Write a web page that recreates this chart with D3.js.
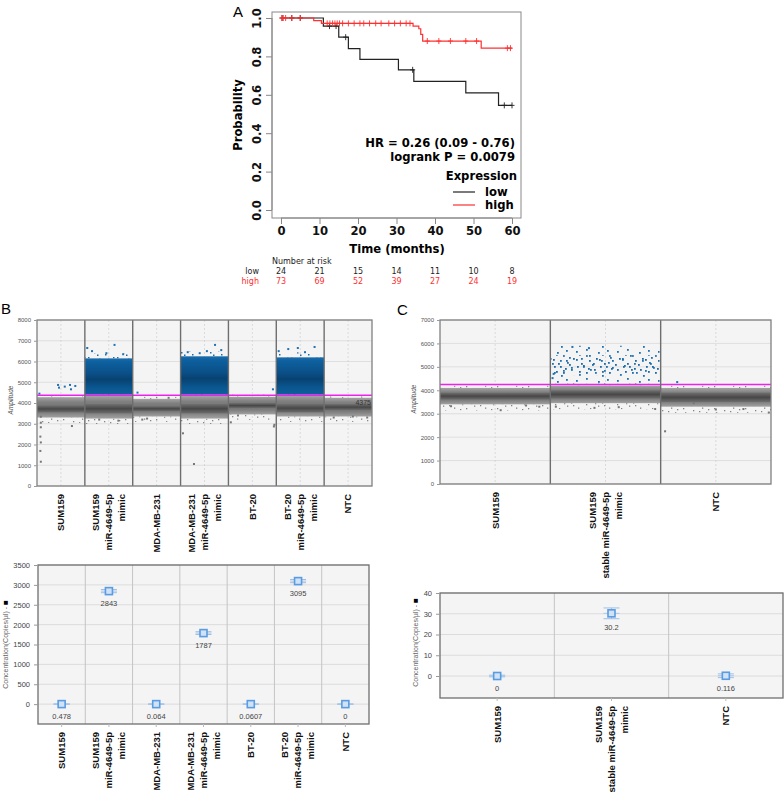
<!DOCTYPE html>
<html><head><meta charset="utf-8">
<script src="https://cdn.jsdelivr.net/npm/d3@7"></script>
<style>body{margin:0;background:#fff}svg{display:block}</style>
</head><body>
<svg id="c" width="784" height="792"></svg>
<script>
// ================= DATA =================
// Panel A: Kaplan-Meier
const kmTicksX = [0, 10, 20, 30, 40, 50, 60];
const kmTicksY = [0, 0.2, 0.4, 0.6, 0.8, 1.0];
const lowTimes = [0, 11, 15, 17.5, 20.5, 30.5, 34.5, 48, 56.5, 60];
const lowSurv  = [1, 0.958, 0.9, 0.84, 0.785, 0.73, 0.67, 0.61, 0.545, 0.545];
const lowCensor = [0.3, 2.8, 5, 12.6, 14.3, 16.8, 34.2, 58, 60];
const highTimes = [0, 8.5, 10.5, 34.3, 35.8, 36.3, 36.8, 52, 60];
const highSurv  = [1, 0.986, 0.972, 0.958, 0.944, 0.915, 0.88, 0.843, 0.843];
const highCensor = [0.2, 0.6, 1.2, 2.8, 5, 12, 12.7, 13.4, 14, 14.6, 15.2, 16, 17.5, 19, 20.5, 21.5, 23, 24.6, 26, 28, 29.5, 31, 32.5, 33.5, 38, 41, 44, 48, 50.8, 58.8, 59.6];
const riskTimes = [0, 10, 20, 30, 40, 50, 60];
const riskLow  = [24, 21, 15, 14, 11, 10, 8];
const riskHigh = [73, 69, 52, 39, 27, 24, 19];
const hrText = "HR = 0.26 (0.09 - 0.76)";
const pText = "logrank P = 0.0079";

// Panel B: droplet amplitude
const wellsB = ["SUM159", "SUM159|miR-4649-5p|mimic", "MDA-MB-231", "MDA-MB-231|miR-4649-5p|mimic", "BT-20", "BT-20|miR-4649-5p|mimic", "NTC"];
const ampTicksB = [0, 1000, 2000, 3000, 4000, 5000, 6000, 7000, 8000];
// negative droplet cluster per well: [low edge, core low, core high, high edge]
const negB = [[3300, 3550, 3880, 4280], [3250, 3500, 3950, 4350], [3350, 3600, 3850, 4200], [3250, 3500, 3950, 4350], [3450, 3750, 4000, 4300], [3350, 3550, 3950, 4350], [3350, 3650, 3950, 4250]];
// positive cluster per well: [low edge, high edge]
const posB = [null, [4400, 6150], null, [4400, 6250], null, [4400, 6200], null];
const thresholdB = 4375;
// isolated droplets: [well, position within well (0-1), amplitude, positive?]
const outB = [
  [0, 0.44, 4870, 1], [0, 0.46, 4740, 1], [0, 0.58, 4790, 1], [0, 0.69, 4870, 1], [0, 0.71, 4660, 1], [0, 0.8, 4820, 1],
  [0, 0.08, 3340, 0], [0, 0.08, 3050, 0], [0, 0.08, 2830, 0], [0, 0.07, 2380, 0], [0, 0.08, 2100, 0], [0, 0.07, 1690, 0], [0, 0.08, 1170, 0], [0, 0.73, 2890, 0], [0, 0.05, 4450, 1],
  [1, 0.05, 6650, 1], [1, 0.15, 6500, 1], [1, 0.62, 6800, 1], [1, 0.45, 6400, 1], [1, 0.8, 6350, 1], [1, 0.3, 3200, 0], [1, 0.7, 3150, 0],
  [2, 0.1, 4500, 1], [2, 0.2, 3200, 0], [2, 0.3, 3250, 0], [2, 0.75, 4250, 0],
  [3, 0.05, 2540, 0], [3, 0.28, 1060, 0], [3, 0.15, 6450, 1], [3, 0.55, 6500, 1], [3, 0.72, 6800, 1], [3, 0.85, 6550, 1], [3, 0.4, 6400, 1],
  [4, 0.93, 4660, 1], [4, 0.05, 3070, 0], [4, 0.96, 2950, 0], [4, 0.95, 2870, 0], [4, 0.2, 3400, 0],
  [5, 0.05, 6500, 1], [5, 0.25, 6600, 1], [5, 0.45, 6650, 1], [5, 0.8, 6700, 1], [5, 0.6, 6450, 1],
  [6, 0.2, 3300, 0], [6, 0.6, 3350, 0], [6, 0.9, 3300, 0]
];

// Panel B: concentration
const concB = [0.478, 2843, 0.064, 1787, 0.0607, 3095, 0];
const concErrB = [4, 40, 3, 35, 3, 40, 0];
const concLabB = ["0.478", "2843", "0.064", "1787", "0.0607", "3095", "0"];
const concTicksB = [0, 500, 1000, 1500, 2000, 2500, 3000, 3500];

// Panel C: droplet amplitude
const wellsC = ["SUM159", "SUM159|stable miR-4649-5p|mimic", "NTC"];
const ampTicksC = [0, 1000, 2000, 3000, 4000, 5000, 6000, 7000];
const negC = [[3400, 3600, 3900, 4100], [3450, 3650, 4000, 4200], [3300, 3500, 3900, 4100]];
const posC = [null, [4300, 4650, 5500, 5900], null];
const thresholdC = 4250;
const outC = [
  [0, 0.1, 3320, 0], [0, 0.55, 3150, 0], [0, 0.78, 3350, 0], [0, 0.9, 3300, 0],
  [1, 0.05, 3300, 0], [1, 0.4, 3250, 0], [1, 0.62, 3280, 0], [1, 0.95, 3200, 0], [1, 0.02, 4520, 1], [1, 0.03, 4700, 1], [1, 0.2, 5850, 1], [1, 0.35, 5800, 1],
  [2, 0.04, 2250, 0], [2, 0.15, 4350, 1], [2, 0.3, 3450, 0], [2, 0.5, 3180, 0], [2, 0.75, 3200, 0], [2, 0.98, 3050, 0]
];

// Panel C: concentration
const concC = [0, 30.2, 0.116];
const concErrC = [0.4, 2.6, 0.9];
const concLabC = ["0", "30.2", "0.116"];
const concTicksC = [0, 10, 20, 30, 40];

// ================= DRAWING =================
const svg = d3.select('#c');
const defs = svg.append('defs');
const KM_FONT = "'DejaVu Sans', sans-serif";
const DD_FONT = "'Liberation Sans', Arial, sans-serif";

function linGrad(id, stops) {
  const g = defs.append('linearGradient').attr('id', id).attr('x1', 0).attr('y1', 0).attr('x2', 0).attr('y2', 1);
  stops.forEach(([o, c]) => g.append('stop').attr('offset', o).attr('stop-color', c));
}
linGrad('grayOuter', [[0, '#a4a4a4'], [0.25, '#808080'], [0.5, '#727272'], [0.75, '#7e7e7e'], [1, '#a2a2a2']]);
linGrad('grayCore', [[0, '#707070'], [0.5, '#474747'], [1, '#6e6e6e']]);
linGrad('blueBand', [[0, '#1a6cab'], [0.1, '#0d609f'], [0.42, '#0a4f87'], [0.58, '#074270'], [0.8, '#0a5690'], [1, '#0f619d']]);

function pattern(id, w, h, color, dots, size) {
  const p = defs.append('pattern').attr('id', id).attr('patternUnits', 'userSpaceOnUse').attr('width', w).attr('height', h);
  dots.forEach(([dx, dy]) => p.append('rect').attr('x', dx).attr('y', dy).attr('width', size).attr('height', size).attr('fill', color));
}
pattern('spGray', 31, 11, '#858585', [[1, 1], [6, 7], [11, 3], [15, 9], [20, 0.5], [24, 5], [28, 8], [3, 5], [9, 9.5], [17, 4], [26, 2], [13, 6.5]], 1.3);
pattern('spBlue', 29, 12, '#1c69a6', [[1, 9], [7, 4], [12, 10], [18, 6], [23, 1], [26, 9], [4, 1], [15, 2], [21, 10.5], [10, 6.5]], 1.5);
pattern('sparseBlue', 41, 29, '#1f72b3', [[2, 3], [9, 17], [15, 7], [21, 24], [27, 12], [33, 2], [38, 19], [5, 26], [12, 1], [30, 22], [19, 15], [36, 9], [24, 4], [7, 10], [16, 21], [34, 14], [28, 27]], 1.8);
pattern('denseBlue', 23, 17, '#1a6aa9', [[1, 2], [8, 9], [14, 3], [19, 12], [4, 14], [11, 15], [17, 7], [6, 6], [21, 1], [13, 11], [2, 9]], 1.8);

// ---------- Panel A ----------
(function () {
  const x = d3.scaleLinear([0, 60], [281, 512]);
  const y = d3.scaleLinear([0, 1], [210, 18]);
  const g = svg.append('g').attr('font-family', KM_FONT);
  g.append('text').attr('x', 233).attr('y', 17).attr('font-size', 15).attr('font-family', DD_FONT).text('A');
  g.append('rect').attr('x', 272).attr('y', 12).attr('width', 249).attr('height', 206)
    .attr('fill', 'none').attr('stroke', '#888').attr('stroke-width', 1);
  const ax = g.append('g').attr('transform', 'translate(0,218)')
    .call(d3.axisBottom(x).tickValues(kmTicksX).tickSize(6).tickPadding(3));
  ax.select('.domain').attr('stroke', '#888').attr('d', `M${x(0)},0H${x(60)}`);
  ax.selectAll('.tick line').attr('stroke', '#888');
  ax.selectAll('text').attr('font-size', 11.6).attr('font-weight', 'bold').attr('font-family', KM_FONT).attr('fill', '#111');
  const ay = g.append('g').attr('transform', 'translate(272,0)')
    .call(d3.axisLeft(y).tickValues(kmTicksY).tickFormat(d3.format('.1f')).tickSize(6));
  ay.select('.domain').attr('stroke', '#888').attr('d', `M0,${y(0)}V${y(1)}`);
  ay.selectAll('.tick line').attr('stroke', '#888');
  ay.selectAll('text').attr('font-size', 11.6).attr('font-weight', 'bold').attr('font-family', KM_FONT).attr('fill', '#111')
    .attr('text-anchor', 'middle').attr('x', 0).attr('dy', 0)
    .attr('transform', 'translate(-11,0) rotate(-90)');
  g.append('text').attr('transform', 'translate(242,115) rotate(-90)').attr('text-anchor', 'middle')
    .attr('font-size', 11.6).attr('font-weight', 'bold').text('Probability');
  g.append('text').attr('x', 397).attr('y', 253).attr('text-anchor', 'middle')
    .attr('font-size', 11.6).attr('font-weight', 'bold').text('Time (months)');

  const line = d3.line().x(d => x(d[0])).y(d => y(d[1])).curve(d3.curveStepAfter);
  function surv(times, s, t) { let v = s[0]; times.forEach((tt, i) => { if (tt <= t) v = s[i]; }); return v; }
  function curve(times, s, cens, color) {
    g.append('path').attr('d', line(times.map((t, i) => [t, s[i]]))).attr('fill', 'none')
      .attr('stroke', color).attr('stroke-width', 1.2);
    g.append('g').selectAll('path').data(cens).join('path')
      .attr('d', t => { const px = x(t), py = y(surv(times, s, t)); return `M${px},${py - 3}V${py + 3}M${px - 2.5},${py}H${px + 2.5}`; })
      .attr('stroke', color).attr('stroke-width', 0.9).attr('fill', 'none');
  }
  curve(lowTimes, lowSurv, lowCensor, '#222');
  curve(highTimes, highSurv, highCensor, '#ff3030');

  g.append('text').attr('x', 515).attr('y', 147).attr('text-anchor', 'end').attr('font-size', 11.6).attr('font-weight', 'bold').text(hrText);
  g.append('text').attr('x', 515).attr('y', 161).attr('text-anchor', 'end').attr('font-size', 11.6).attr('font-weight', 'bold').text(pText);
  g.append('text').attr('x', 517).attr('y', 180).attr('text-anchor', 'end').attr('font-size', 11.6).attr('font-weight', 'bold').text('Expression');
  [['low', '#222', 192], ['high', '#ff3030', 205]].forEach(([t, c, yy]) => {
    g.append('line').attr('x1', 453).attr('x2', 475).attr('y1', yy).attr('y2', yy).attr('stroke', c).attr('stroke-width', 1.2);
    g.append('text').attr('x', 485).attr('y', yy + 4).attr('font-size', 11.6).attr('font-weight', 'bold').text(t);
  });
  g.append('text').attr('x', 272).attr('y', 264).attr('font-size', 8).attr('fill', '#222').text('Number at risk');
  g.append('text').attr('x', 259).attr('y', 274).attr('text-anchor', 'end').attr('font-size', 8).attr('fill', '#222').text('low');
  g.append('text').attr('x', 259).attr('y', 284).attr('text-anchor', 'end').attr('font-size', 8).attr('fill', '#ff3030').text('high');
  g.append('g').selectAll('text').data(riskTimes).join('text').attr('x', d => x(d)).attr('y', 274)
    .attr('text-anchor', 'middle').attr('font-size', 8).attr('fill', '#222').text((d, i) => riskLow[i]);
  g.append('g').selectAll('text').data(riskTimes).join('text').attr('x', d => x(d)).attr('y', 284)
    .attr('text-anchor', 'middle').attr('font-size', 8).attr('fill', '#ff3030').text((d, i) => riskHigh[i]);
})();

// ---------- helpers for ddPCR panels ----------
function xLabels(g, x, wells, yTop, fs, lh) {
  wells.forEach((w, i) => {
    const lines = w.split('|');
    const cx = x(i) + x.bandwidth() / 2;
    lines.forEach((ln, j) => {
      const px = cx + (j - (lines.length - 1) / 2) * lh + fs * 0.36;
      g.append('text').attr('transform', `translate(${px},${yTop}) rotate(-90)`)
        .attr('text-anchor', 'end').attr('font-size', fs).attr('font-weight', 'bold')
        .attr('font-family', DD_FONT).attr('fill', '#111').text(ln);
    });
  });
}

function droplet(c) {
  const g = svg.append('g');
  const x = d3.scaleBand(c.wells.map((d, i) => i), [c.x0, c.x1]);
  const y = d3.scaleLinear([0, c.max], [c.y1, c.y0]);
  const bw = x.bandwidth();
  g.append('rect').attr('x', c.x0).attr('y', c.y0).attr('width', c.x1 - c.x0).attr('height', c.y1 - c.y0).attr('fill', '#f4f4f4');
  g.append('g').selectAll('line').data(c.ticks).join('line').attr('x1', c.x0).attr('x2', c.x1)
    .attr('y1', d => y(d)).attr('y2', d => y(d)).attr('stroke', '#d9d9d9').attr('stroke-width', 0.8);
  g.append('g').selectAll('line').data(x.domain()).join('line')
    .attr('x1', i => x(i) + bw / 2).attr('x2', i => x(i) + bw / 2).attr('y1', c.y0).attr('y2', c.y1)
    .attr('stroke', '#cfcfcf').attr('stroke-width', 0.7).attr('stroke-dasharray', '2,2');
  c.neg.forEach((b, i) => {
    const [lo, cl, ch, hi] = b;
    g.append('rect').attr('x', x(i)).attr('width', bw).attr('y', y(lo)).attr('height', y(lo - 260) - y(lo)).attr('fill', 'url(#spGray)');
    g.append('rect').attr('x', x(i)).attr('width', bw).attr('y', y(hi + 100)).attr('height', y(hi) - y(hi + 100)).attr('fill', 'url(#spGray)');
    g.append('rect').attr('x', x(i)).attr('width', bw).attr('y', y(hi)).attr('height', y(lo) - y(hi)).attr('fill', 'url(#grayOuter)');
    g.append('rect').attr('x', x(i)).attr('width', bw).attr('y', y(ch)).attr('height', y(cl) - y(ch)).attr('fill', 'url(#grayCore)');
  });
  c.pos.forEach((b, i) => {
    if (!b) return;
    if (b.length === 2) {
      const [lo, hi] = b;
      g.append('rect').attr('x', x(i)).attr('width', bw).attr('y', y(hi + 240)).attr('height', y(hi) - y(hi + 240)).attr('fill', 'url(#spBlue)');
      g.append('rect').attr('x', x(i)).attr('width', bw).attr('y', y(hi)).attr('height', y(lo) - y(hi)).attr('fill', 'url(#blueBand)');
    } else {
      const [lo, cl, ch, hi] = b;
      g.append('rect').attr('x', x(i) + 1).attr('width', bw - 2).attr('y', y(hi)).attr('height', y(lo) - y(hi)).attr('fill', 'url(#sparseBlue)');
      g.append('rect').attr('x', x(i) + 1).attr('width', bw - 2).attr('y', y(ch)).attr('height', y(cl) - y(ch)).attr('fill', 'url(#denseBlue)');
    }
  });
  g.append('g').selectAll('rect').data(c.out).join('rect')
    .attr('x', d => x(d[0]) + d[1] * bw - 1).attr('y', d => y(d[2]) - 1).attr('width', 2).attr('height', 2)
    .attr('fill', d => d[3] ? '#1f72b3' : '#777');
  g.append('line').attr('x1', c.x0).attr('x2', c.x1).attr('y1', y(c.thr)).attr('y2', y(c.thr)).attr('stroke', '#ee22ee').attr('stroke-width', 1.5);
  if (c.thrLabel) g.append('text').attr('x', c.x1 - 1).attr('y', y(c.thr) + 10).attr('text-anchor', 'end')
    .attr('font-size', 7).attr('font-family', DD_FONT).attr('fill', '#333').text(c.thr);
  g.append('g').selectAll('line').data(x.domain().slice(1)).join('line')
    .attr('x1', i => x(i)).attr('x2', i => x(i)).attr('y1', c.y0).attr('y2', c.y1).attr('stroke', '#6e6e6e').attr('stroke-width', 1.4);
  g.append('rect').attr('x', c.x0).attr('y', c.y0).attr('width', c.x1 - c.x0).attr('height', c.y1 - c.y0)
    .attr('fill', 'none').attr('stroke', '#808080').attr('stroke-width', 1.3);
  const ay = g.append('g').attr('transform', `translate(${c.x0},0)`)
    .call(d3.axisLeft(y).tickValues(c.ticks).tickFormat(d3.format('d')).tickSize(3).tickPadding(3));
  ay.select('.domain').remove();
  ay.selectAll('.tick line').attr('stroke', '#999');
  ay.selectAll('text').attr('font-size', 6).attr('font-family', DD_FONT).attr('fill', '#555');
  g.append('text').attr('transform', `translate(${c.x0 - 24},${(c.y0 + c.y1) / 2 - 3}) rotate(-90)`).attr('text-anchor', 'middle')
    .attr('font-size', 6.5).attr('font-style', 'italic').attr('font-family', DD_FONT).attr('fill', '#555').text('Amplitude');
  xLabels(g, x, c.wells, c.y1 + 8, 9.5, 13);
}

function conc(c) {
  const g = svg.append('g');
  const x = d3.scaleBand(c.wells.map((d, i) => i), [c.x0, c.x1]);
  const y = d3.scaleLinear(c.domain, [c.y1, c.y0]);
  const bw = x.bandwidth();
  g.append('rect').attr('x', c.x0).attr('y', c.y0).attr('width', c.x1 - c.x0).attr('height', c.y1 - c.y0).attr('fill', '#f4f4f4');
  g.append('g').selectAll('line').data(c.ticks).join('line').attr('x1', c.x0).attr('x2', c.x1)
    .attr('y1', d => y(d)).attr('y2', d => y(d)).attr('stroke', '#d6d6d6').attr('stroke-width', 0.8);
  g.append('g').selectAll('line').data(x.domain().slice(1)).join('line')
    .attr('x1', i => x(i)).attr('x2', i => x(i)).attr('y1', c.y0).attr('y2', c.y1).attr('stroke', '#c4c4c4').attr('stroke-width', 1);
  g.append('rect').attr('x', c.x0).attr('y', c.y0).attr('width', c.x1 - c.x0).attr('height', c.y1 - c.y0)
    .attr('fill', 'none').attr('stroke', '#6f6f6f').attr('stroke-width', 1.3);
  g.append('g').selectAll('line').data(x.domain()).join('line')
    .attr('x1', i => x(i) + bw / 2).attr('x2', i => x(i) + bw / 2).attr('y1', c.y1).attr('y2', c.y1 + 3).attr('stroke', '#bbb');
  const ay = g.append('g').attr('transform', `translate(${c.x0},0)`)
    .call(d3.axisLeft(y).tickValues(c.ticks).tickFormat(d3.format('d')).tickSize(4).tickPadding(4));
  ay.select('.domain').remove();
  ay.selectAll('.tick line').attr('stroke', '#999');
  ay.selectAll('text').attr('font-size', 7.5).attr('font-family', DD_FONT).attr('fill', '#444');
  const lab = g.append('text').attr('transform', `translate(${c.labX},${(c.y0 + c.y1) / 2 + c.labDy}) rotate(-90)`).attr('text-anchor', 'middle')
    .attr('font-size', 7).attr('font-family', DD_FONT).attr('fill', '#666');
  lab.append('tspan').text('Concentration(Copies/µl) - ');
  lab.append('tspan').attr('fill', '#000').attr('font-size', 8).text('■');
  c.vals.forEach((v, i) => {
    const cx = x(i) + bw / 2, cy = y(v), e = c.err[i];
    const yt = y(v + e), yb = y(v - e);
    g.append('line').attr('x1', cx).attr('x2', cx).attr('y1', yt).attr('y2', yb).attr('stroke', '#9dbfe6').attr('stroke-width', 1);
    [yt, yb].forEach(yy => g.append('line').attr('x1', cx - 8).attr('x2', cx + 8).attr('y1', yy).attr('y2', yy).attr('stroke', '#9dbfe6').attr('stroke-width', 1));
    g.append('line').attr('x1', cx - 8).attr('x2', cx + 8).attr('y1', cy).attr('y2', cy).attr('stroke', '#a9c7ea').attr('stroke-width', 1);
    g.append('rect').attr('x', cx - 3.5).attr('y', cy - 3.5).attr('width', 7).attr('height', 7)
      .attr('fill', '#cfe2f7').attr('stroke', '#5b9be0').attr('stroke-width', 1.6);
    g.append('text').attr('x', cx).attr('y', Math.max(yb, cy + 4) + 11).attr('text-anchor', 'middle')
      .attr('font-size', 7.5).attr('font-family', DD_FONT).attr('fill', '#444').text(c.labels[i]);
  });
  xLabels(g, x, c.wells, c.y1 + 8, 9.5, 13);
}

// ---------- Panel B ----------
svg.append('text').attr('x', 1).attr('y', 314).attr('font-size', 15).attr('font-family', DD_FONT).text('B');
droplet({ wells: wellsB, x0: 37, x1: 372, y0: 320, y1: 486, max: 8000, ticks: ampTicksB, neg: negB, pos: posB, out: outB, thr: thresholdB, thrLabel: true });
conc({ wells: wellsB, x0: 38, x1: 369, y0: 565, y1: 724, domain: [-500, 3500], ticks: concTicksB, vals: concB, err: concErrB, labels: concLabB, labX: 7.5, labDy: 0 });

// ---------- Panel C ----------
svg.append('text').attr('x', 397).attr('y', 315).attr('font-size', 15).attr('font-family', DD_FONT).text('C');
droplet({ wells: wellsC, x0: 440, x1: 771, y0: 320, y1: 484, max: 7000, ticks: ampTicksC, neg: negC, pos: posC, out: outC, thr: thresholdC, thrLabel: false });
conc({ wells: wellsC, x0: 440, x1: 783, y0: 593, y1: 698, domain: [-10.6, 40], ticks: concTicksC, vals: concC, err: concErrC, labels: concLabC, labX: 418, labDy: -3 });
</script>
</body></html>
